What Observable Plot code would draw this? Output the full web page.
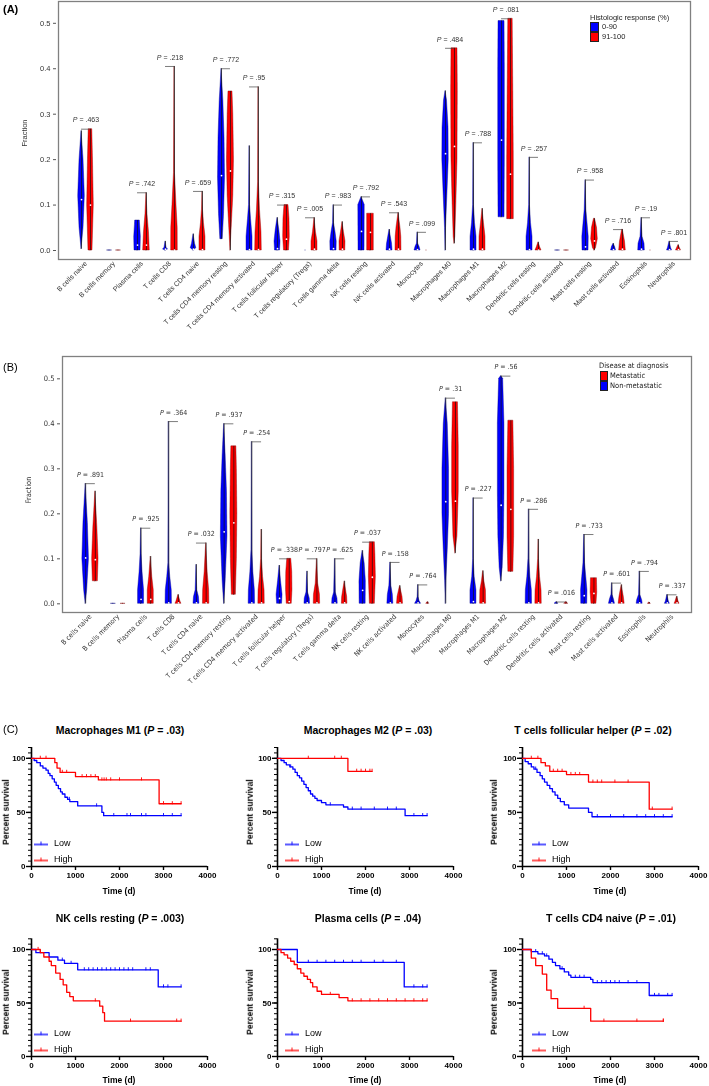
<!DOCTYPE html>
<html><head><meta charset="utf-8">
<script src="https://cdn.jsdelivr.net/npm/d3@7"></script>
<script src="https://cdn.jsdelivr.net/npm/@observablehq/plot@0.6"></script>
<style>
body{margin:0;background:#fff;}
#root{position:relative;width:709px;height:1086px;overflow:hidden;font-family:"Liberation Sans",Arial,sans-serif;color:#000;}
#root svg{overflow:visible;transform:translateZ(0);will-change:transform;}
.t{position:absolute;white-space:nowrap;line-height:1;}
</style></head><body><div id="root"></div>
<script>
// ---------------- DATA ----------------
const cellTypes = ["B cells naive","B cells memory","Plasma cells","T cells CD8","T cells CD4 naive","T cells CD4 memory resting","T cells CD4 memory activated","T cells follicular helper","T cells regulatory (Tregs)","T cells gamma delta","NK cells resting","NK cells activated","Monocytes","Macrophages M0","Macrophages M1","Macrophages M2","Dendritic cells resting","Dendritic cells activated","Mast cells resting","Mast cells activated","Eosinophils","Neutrophils"];
const fractionTicks = [0, 0.1, 0.2, 0.3, 0.4, 0.5];

// Panel A: violin profiles [fraction, density] for 0-90 (blue) and 91-100 (red)
const violinA_low = [
 [[0.003,0],[0.05,2],[0.12,3.3],[0.2,2],[0.263,0]],
 [[0,0],[0,2.5]],
 [[0,0],[0,3],[0.03,3.3],[0.066,2.3],[0.066,0]],
 [[0,0],[0.002,2.5],[0.006,1],[0.02,0]],
 [[0,0],[0.005,2.8],[0.015,1.5],[0.036,0]],
 [[0.025,0],[0.025,1.2],[0.08,2.5],[0.16,3.5],[0.25,3],[0.33,1.8],[0.4,0]],
 [[0,0],[0,3],[0.03,3],[0.07,1.5],[0.1,0.5],[0.23,0]],
 [[0,0],[0,2.5],[0.02,3],[0.045,1.8],[0.072,0]],
 [[0,0],[0,0]],
 [[0,0],[0,3],[0.02,3.2],[0.04,2],[0.06,0.5],[0.1,0]],
 [[0,0],[0,3],[0.1,3.2],[0.118,0]],
 [[0,0],[0,3],[0.015,2.5],[0.046,0]],
 [[0,0],[0,3],[0.008,2],[0.015,0.6],[0.04,0]],
 [[0,0],[0.05,0.5],[0.12,1.8],[0.2,3.2],[0.27,3],[0.33,1.5],[0.351,0]],
 [[0,0],[0,3],[0.03,3],[0.06,1.5],[0.1,0.4],[0.237,0]],
 [[0.073,0],[0.073,3],[0.2,3.3],[0.4,3.3],[0.505,3],[0.505,0]],
 [[0,0],[0,3],[0.03,3],[0.06,1.5],[0.1,0.4],[0.205,0]],
 [[0,0],[0,2.5]],
 [[0,0],[0,3],[0.03,3.2],[0.06,2],[0.09,0.8],[0.155,0]],
 [[0,0],[0,2.5],[0.008,1.5],[0.015,0]],
 [[0,0],[0,3.3],[0.015,3],[0.03,1],[0.072,0]],
 [[0,0],[0,2.5],[0.006,1.5],[0.02,0]]
];
const violinA_high = [
 [[0,0],[0,2],[0.1,3.3],[0.2,2.5],[0.267,1.8],[0.267,0]],
 [[0,0],[0,2.5]],
 [[0,0],[0,3.3],[0.04,2.5],[0.08,1],[0.127,0]],
 [[0,0],[0,3.3],[0.05,3.2],[0.1,2],[0.17,0.5],[0.405,0]],
 [[0,0],[0,3],[0.03,3],[0.06,1.5],[0.09,0.5],[0.13,0]],
 [[0,0],[0.05,1.2],[0.12,2.8],[0.2,3.5],[0.3,2.8],[0.35,2],[0.35,0]],
 [[0,0],[0,3.3],[0.04,3],[0.09,1.5],[0.15,0.4],[0.36,0]],
 [[0,0],[0,2.5],[0.03,3.3],[0.07,3],[0.1,2],[0.1,0]],
 [[0,0],[0,3],[0.02,3],[0.04,1.5],[0.072,0]],
 [[0,0],[0,2.8],[0.02,3],[0.04,1.5],[0.063,0]],
 [[0,0],[0,3.3],[0.081,3.3],[0.081,0]],
 [[0,0],[0,3],[0.03,2.8],[0.05,2],[0.083,0]],
 [[0,0],[0,0]],
 [[0.015,0],[0.03,0.8],[0.1,1.8],[0.2,3],[0.35,3.3],[0.445,3],[0.445,0]],
 [[0,0],[0,3],[0.03,3],[0.06,1.5],[0.092,0]],
 [[0.069,0],[0.069,3.3],[0.2,3.3],[0.35,2.8],[0.51,2.2],[0.51,0]],
 [[0,0],[0,3],[0.008,1.5],[0.018,0]],
 [[0,0],[0,2.5]],
 [[0,0],[0.005,1.5],[0.025,3.3],[0.05,2.5],[0.07,0.5],[0.07,0]],
 [[0,0],[0,3.3],[0.02,2.5],[0.046,0.3],[0.046,0]],
 [[0,0],[0,0]],
 [[0,0],[0,2.5],[0.005,1.5],[0.012,0]]
];
const medianA_low  = [0.112,null,0.012,0.003,0.003,0.165,0.002,0.004,null,0.004,0.042,0.003,0.002,0.213,0.003,0.243,0.002,null,0.008,0.002,0.003,0.002];
const medianA_high = [0.1,null,0.012,0.001,0.002,0.175,0.002,0.025,0.003,0.003,0.04,0.003,null,0.229,0.003,0.168,0.001,null,0.021,0.003,null,0.002];
const pA = [".463",null,".742",".218",".659",".772",".95",".315",".005",".983",".792",".543",".099",".484",".788",".081",".257",null,".958",".716",".19",".801"];

// Panel B: Non-metastatic (blue) and Metastatic (red)
const violinB_nonmet = [
 [[0,0],[0.03,1.5],[0.1,3.3],[0.18,2.2],[0.267,0]],
 [[0,0],[0,2.5]],
 [[0,0],[0,3],[0.03,3],[0.07,1.5],[0.11,0.5],[0.168,0]],
 [[0,0],[0,3.2],[0.03,3],[0.06,1.5],[0.09,0.4],[0.405,0]],
 [[0,0],[0,3],[0.015,2.5],[0.03,0.8],[0.087,0]],
 [[0,0],[0.05,1.5],[0.15,3.3],[0.25,2.8],[0.33,1.5],[0.4,0]],
 [[0,0],[0,3.2],[0.03,3],[0.07,1.5],[0.12,0.4],[0.36,0]],
 [[0,0],[0,2.5],[0.02,3],[0.05,1.5],[0.085,0]],
 [[0,0],[0,2.8],[0.012,2.5],[0.025,0.8],[0.072,0]],
 [[0,0],[0,2.8],[0.012,2.5],[0.025,0.8],[0.1,0]],
 [[0,0],[0,3],[0.05,3.2],[0.09,2],[0.118,0]],
 [[0,0],[0,3],[0.02,2.5],[0.04,1],[0.092,0]],
 [[0,0],[0,3],[0.006,1.5],[0.015,0.4],[0.042,0]],
 [[0,0],[0.05,0.6],[0.12,2],[0.2,3.3],[0.3,3.3],[0.4,2],[0.457,0]],
 [[0,0],[0,3],[0.03,3],[0.06,1.2],[0.1,0.3],[0.235,0]],
 [[0.05,0],[0.08,1.5],[0.15,2.8],[0.25,3.3],[0.4,3.3],[0.5,2],[0.506,0]],
 [[0,0],[0,3.2],[0.03,3],[0.06,1.5],[0.1,0.4],[0.21,0]],
 [[0,0],[0,2],[0.004,0]],
 [[0,0],[0,3],[0.03,3.2],[0.06,2],[0.09,0.8],[0.154,0]],
 [[0,0],[0,3],[0.01,2],[0.02,0.5],[0.046,0]],
 [[0,0],[0,3],[0.008,2.5],[0.02,0.6],[0.072,0]],
 [[0,0],[0,2.5],[0.005,1.5],[0.02,0]]
];
const violinB_met = [
 [[0.05,0],[0.05,2.5],[0.1,3.2],[0.17,2],[0.25,0]],
 [[0,0],[0,2.5]],
 [[0,0],[0,3],[0.03,3],[0.06,1.5],[0.105,0]],
 [[0,0],[0,3],[0.005,2],[0.02,0]],
 [[0,0],[0,3.2],[0.03,3],[0.07,1.5],[0.135,0]],
 [[0.02,0],[0.02,2],[0.1,3],[0.2,3.5],[0.3,3],[0.35,2.5],[0.35,0]],
 [[0,0],[0,3.2],[0.03,3],[0.06,1.5],[0.1,0.4],[0.165,0]],
 [[0,0],[0,2.5],[0.03,3.2],[0.07,3],[0.1,2],[0.1,0]],
 [[0,0],[0,3.2],[0.02,3],[0.045,1.2],[0.1,0]],
 [[0,0],[0,2.8],[0.015,2.5],[0.05,0]],
 [[0,0],[0,2.5],[0.06,3.5],[0.11,3],[0.137,2.5],[0.137,0]],
 [[0,0],[0,3],[0.015,2.5],[0.04,0]],
 [[0,0],[0,1.5],[0.004,0]],
 [[0.112,0],[0.15,2],[0.25,3.3],[0.35,3.3],[0.448,2.5],[0.448,0]],
 [[0,0],[0,3],[0.03,2.8],[0.05,1.2],[0.073,0]],
 [[0.071,0],[0.071,2.5],[0.15,3.3],[0.3,3.3],[0.407,2.5],[0.407,0]],
 [[0,0],[0,3.2],[0.03,3],[0.06,1.5],[0.1,0.4],[0.143,0]],
 [[0,0],[0,2],[0.004,0]],
 [[0,0],[0,2.5],[0.025,3.3],[0.057,3],[0.057,0]],
 [[0,0],[0,3],[0.015,2.2],[0.042,0]],
 [[0,0],[0,1.5],[0.003,0]],
 [[0,0],[0,2.5],[0.005,1.5],[0.016,0]]
];
const medianB_nonmet = [0.102,null,0.01,0.002,0.002,0.16,0.002,0.012,0.002,0.002,0.03,0.002,0.002,0.227,0.005,0.219,0.002,null,0.018,0.002,0.002,0.002];
const medianB_met    = [0.098,null,0.01,0.002,0.002,0.18,0.002,0.005,0.002,0.002,0.059,0.002,null,0.228,0.002,0.21,0.002,null,0.023,0.002,null,0.002];
const pB = [".891",null,".925",".364",".032",".937",".254",".338",".797",".625",".037",".158",".764",".31",".227",".56",".286",".016",".733",".601",".794",".337"];

// Panel C: Kaplan-Meier steps [day, percent survival], last day of follow-up, censored days
const kmTitles = ["Macrophages M1","Macrophages M2","T cells follicular helper","NK cells resting","Plasma cells","T cells CD4 naive"];
const kmP = [".03",".03",".02",".003",".04",".01"];
const timeTicks = [0,1000,2000,3000,4000];
const survTicks = [0,50,100];

const m1Low = [[0,100],[60,98],[120,96],[200,93],[260,91],[330,89],[380,86],[420,84],[470,81],[520,78],[560,75],[610,72],[660,69],[700,67],[760,64],[820,62],[870,60],[1050,56],[1600,50],[1640,47]];
const m1LowEnd = 3400, m1LowCens = [860,1480,1870,2170,2250,2500,2600,3000,3200];
const m1High = [[0,100],[530,96],[580,91],[650,87],[1000,83],[1520,80],[2900,58]];
const m1HighEnd = 3400, m1HighCens = [200,330,700,800,1150,1250,1350,1450,1600,1650,1700,1800,2000,2500,3000,3200];

const m2Low = [[0,100],[80,98],[150,96],[200,94],[280,92],[350,90],[400,87],[450,84],[500,82],[550,79],[600,76],[650,73],[700,70],[750,67],[800,65],[850,63],[900,61],[1000,59],[1100,57],[1500,55],[1600,53],[2900,47]];
const m2LowEnd = 3400, m2LowCens = [300,1200,1700,1900,2200,2500,2700,3100,3300];
const m2High = [[0,100],[1600,88]];
const m2HighEnd = 2150, m2HighCens = [700,1300,1450,1800,1900,2000,2100];

const tfhLow = [[0,100],[60,97],[130,95],[200,92],[260,90],[330,87],[400,84],[450,81],[500,78],[560,75],[620,72],[680,69],[740,66],[800,63],[860,60],[950,57],[1050,54],[1500,50],[1580,46]];
const tfhLowEnd = 3400, tfhLowCens = [300,1700,2000,2300,2600,2800,3000,3200];
const tfhHigh = [[0,100],[420,96],[520,93],[620,88],[1000,85],[1500,78],[2880,53]];
const tfhHighEnd = 3400, tfhHighCens = [200,350,700,800,900,1100,1200,1300,1600,1700,1800,2100,2400,2950];

const nkLow = [[0,100],[100,97],[400,93],[600,90],[750,87],[1050,81],[2880,65]];
const nkLowEnd = 3400, nkLowCens = [200,700,900,1200,1300,1400,1500,1600,1700,1800,1900,2000,2100,2200,2300,2600,2700,3000,3100];
const nkHigh = [[0,100],[200,97],[280,93],[400,89],[450,85],[550,78],[650,72],[720,67],[800,60],[870,56],[950,52],[1550,47],[1620,41],[1660,33]];
const nkHighEnd = 3400, nkHighCens = [150,1450,2250,3300];

const plLow = [[0,100],[450,88],[2880,65]];
const plLowEnd = 3400, plLowCens = [700,900,1100,1300,1500,1700,1900,2200,2400,2700,3100,3300];
const plHigh = [[0,100],[80,97],[150,95],[230,92],[300,89],[380,86],[450,82],[530,78],[600,75],[680,72],[750,69],[800,65],[900,61],[1000,58],[1400,55],[1600,52]];
const plHighEnd = 3400, plHighCens = [1200,1700,1900,2100,2300,2500,2700,2900,3100,3300];

const cd4Low = [[0,100],[200,98],[350,96],[500,94],[600,91],[680,88],[750,85],[850,82],[950,79],[1050,76],[1100,74],[1550,72],[1600,69],[2880,57]];
const cd4LowEnd = 3400, cd4LowCens = [300,450,550,900,1200,1300,1400,1700,1800,1900,2000,2100,2200,2400,2600,3000,3100,3300];
const cd4High = [[0,100],[200,92],[300,85],[450,77],[550,62],[650,54],[800,45],[1550,33]];
const cd4HighEnd = 3200, cd4HighCens = [1400,1850,2600,3200];

// ---------------- DRAWING ----------------
const root = document.getElementById("root");
const BLUE = "#0000ff", RED = "#ff0000";

function addText(html, x, y, css, anchor) {
  const d = document.createElement("div");
  d.className = "t";
  d.innerHTML = html;
  d.style.cssText += `left:${x}px;top:${y}px;` + (css || "");
  const a = anchor || "lm";
  const tx = a[0] === "c" ? "-50%" : a[0] === "r" ? "-100%" : "0";
  d.style.transform = `translate(${tx},-50%)`;
  root.appendChild(d);
  return d;
}
function addRotText(html, x, y, css) {
  const d = document.createElement("div");
  d.className = "t";
  d.innerHTML = html;
  d.style.cssText += `left:${x}px;top:${y}px;transform:translate(-50%,-50%) rotate(-90deg);` + (css || "");
  root.appendChild(d);
}
function place(node, left, top) {
  node.style.position = "absolute";
  node.style.left = left + "px";
  node.style.top = top + "px";
  root.appendChild(node);
}
function italicP(svg) {
  d3.select(svg).selectAll("text").each(function () {
    const s = this.textContent;
    if (s.startsWith("P = ")) {
      this.textContent = "";
      const sel = d3.select(this);
      sel.append("tspan").attr("font-style", "italic").text("P");
      sel.append("tspan").text(s.slice(1));
    }
  });
}

function violinPanel(cfg) {
  const {low, high, medLow, medHigh, pvals, unit, off} = cfg;
  const rows = (arr, sign, grp) => arr.flatMap((kn, i) => kn.map(([v, w]) => ({
    key: grp + i, v, x1: i + sign * off - w / unit, x2: i + sign * off + w / unit})));
  const stats = [];
  [[low, -1, medLow], [high, 1, medHigh]].forEach(([arr, sign, med]) => arr.forEach((kn, i) => {
    const vs = kn.map(k => k[0]);
    stats.push({xc: i + sign * off, min: d3.min(vs), max: d3.max(vs), med: med[i]});
  }));
  const brackets = pvals.map((p, i) => p == null ? null : ({
    i, xb: i - off, xr: i + off,
    top: Math.max(d3.max(low[i], k => k[0]), d3.max(high[i], k => k[0])),
    label: "P = " + p})).filter(d => d);
  const svg = Plot.plot({
    width: 709, height: cfg.height,
    marginTop: cfg.mt, marginBottom: cfg.mb, marginLeft: cfg.ml, marginRight: cfg.mr,
    x: {domain: cfg.xDomain, axis: null},
    y: {domain: cfg.yDomain, axis: null},
    style: {fontFamily: cfg.font, color: "#333", background: "transparent", overflow: "visible"},
    marks: [
      Plot.frame({stroke: "#808080", strokeWidth: 1.3}),
      Plot.axisY(fractionTicks, {tickFormat: d3.format(".1f"), tickSize: 3, tickPadding: 3, dx: -2, fontSize: 7.5, label: null, stroke: "#555", fill: "#333"}),
      Plot.axisX(d3.range(cellTypes.length), {tickFormat: i => cellTypes[i], tickRotate: -45, tickSize: 0, tickPadding: 3, fontSize: 7, label: null, fill: "#333"}),
      Plot.areaX(rows(low, -1, "l"), {y: "v", x1: "x1", x2: "x2", z: "key", fill: BLUE, stroke: "#00007a", strokeWidth: 0.4}),
      Plot.areaX(rows(high, 1, "h"), {y: "v", x1: "x1", x2: "x2", z: "key", fill: RED, stroke: "#7a0000", strokeWidth: 0.4}),
      Plot.ruleX(stats, {x: "xc", y1: "min", y2: "max", stroke: "#111", strokeWidth: 0.7}),
      Plot.dot(stats.filter(d => d.med != null), {x: "xc", y: "med", r: 0.9, fill: "white"}),
      Plot.ruleY(brackets, {y: "top", x1: "xb", x2: "xr", stroke: "#444", strokeWidth: 0.7}),
      Plot.text(brackets, {x: "i", y: "top", text: "label", dy: -9, fontSize: 7, fill: "#333"})
    ]
  });
  italicP(svg);
  return svg;
}

// Panel A
place(violinPanel({
  low: violinA_low, high: violinA_high, medLow: medianA_low, medHigh: medianA_high, pvals: pA,
  unit: 28, off: 0.16, height: 350, mt: 1, mb: 91, ml: 58, mr: 19,
  xDomain: [-0.982, 21.589], yDomain: [-0.0198, 0.548], font: '"Liberation Sans", Arial, sans-serif'
}), 0, 0);
addText("(A)", 3, 9, "font-weight:bold;font-size:11px;");
addRotText("Fraction", 25, 133, "font-size:7.5px;color:#333;");
addText("Histologic response (%)", 590, 18, "font-size:7.5px;color:#222;");
addText(`<span style="display:inline-block;width:7px;height:8px;background:${BLUE};border:0.5px solid #222;vertical-align:middle;margin-right:3px"></span>0-90`, 590, 27, "font-size:7.5px;color:#222;");
addText(`<span style="display:inline-block;width:7px;height:8px;background:${RED};border:0.5px solid #222;vertical-align:middle;margin-right:3px"></span>91-100`, 590, 37, "font-size:7.5px;color:#222;");

// Panel B
const narrow = '"Liberation Sans Narrow", "Arial Narrow", "DejaVu Sans Condensed", sans-serif';
place(violinPanel({
  low: violinB_nonmet, high: violinB_met, medLow: medianB_nonmet, medHigh: medianB_met, pvals: pB,
  unit: 27.7, off: 0.175, height: 350, mt: 6, mb: 88, ml: 62, mr: 18,
  xDomain: [-1.011, 21.697], yDomain: [-0.0193, 0.5496], font: narrow
}), 0, 350);
addText("(B)", 3, 367, "font-size:11px;");
addRotText("Fraction", 29, 490, `font-size:7.5px;color:#333;font-family:${narrow};`);
addText("Disease at diagnosis", 599, 366, `font-size:7.5px;color:#222;font-family:${narrow};`);
addText(`<span style="display:inline-block;width:6px;height:8px;background:${RED};border:0.5px solid #222;vertical-align:middle;margin-right:2px"></span>Metastatic`, 600, 376, `font-size:7.5px;color:#222;font-family:${narrow};`);
addText(`<span style="display:inline-block;width:6px;height:8px;background:${BLUE};border:0.5px solid #222;vertical-align:middle;margin-right:2px"></span>Non-metastatic`, 600, 386, `font-size:7.5px;color:#222;font-family:${narrow};`);

// Panel C
addText("(C)", 3, 729, "font-size:11px;");
const censorSymbol = {draw(ctx, size) { const r = Math.sqrt(size / Math.PI); ctx.moveTo(0, 0.5); ctx.lineTo(0, -r); }};

function stepValue(steps, t) { let s = steps[0][1]; for (const [tt, ss] of steps) if (tt <= t) s = ss; return s; }

function kmPanel(cfg) {
  const marks = [];
  cfg.series.forEach(({steps, end, cens, color}) => {
    const line = steps.map(([t, s]) => ({t, s})).concat([{t: end, s: steps[steps.length - 1][1]}]);
    marks.push(Plot.line(line, {x: "t", y: "s", curve: "step-after", stroke: color, strokeWidth: 1.3}));
    marks.push(Plot.dot(cens.concat([end]).map(t => ({t, s: stepValue(steps, t)})), {x: "t", y: "s", symbol: censorSymbol, r: 2.6, stroke: color, strokeWidth: 0.9, fill: "none"}));
  });
  const svg = Plot.plot({
    width: 230, height: cfg.height, marginTop: cfg.mt, marginBottom: cfg.mb, marginLeft: 31, marginRight: 23,
    x: {domain: [0, 4000], axis: null}, y: {domain: [0, 110], axis: null},
    style: {fontFamily: '"Liberation Sans", Arial, sans-serif', color: "#000", background: "transparent", overflow: "visible"},
    marks: [
      Plot.axisY(d3.range(0, 111, 5), {tickSize: 3, tickFormat: () => "", strokeWidth: 1, label: null}),
      Plot.axisY(survTicks, {tickSize: 5, tickPadding: 1, tickFormat: d3.format("d"), fontSize: 8, fontWeight: "bold", strokeWidth: 1.4, label: null}),
      Plot.axisX(timeTicks, {tickSize: 4, tickPadding: 2, tickFormat: d3.format("d"), fontSize: 8, fontWeight: "bold", strokeWidth: 1.4, label: null}),
      Plot.ruleX([0], {y1: 0, y2: 110, strokeWidth: 1.6}),
      Plot.ruleY([0], {x1: 0, x2: 4000, strokeWidth: 1.6}),
      ...marks
    ]
  });
  place(svg, cfg.left, cfg.top);
}

const kmLayout = [
  {left: 0, top: 740, height: 160, mt: 7, mb: 34, titleX: 120, titleY: 730, ylabX: 6, ylabY: 812, timeY: 891, legX: 34, legY: 843},
  {left: 246, top: 740, height: 160, mt: 7, mb: 34, titleX: 368, titleY: 730, ylabX: 250, ylabY: 812, timeY: 891, legX: 285, legY: 843},
  {left: 491, top: 740, height: 160, mt: 7, mb: 34, titleX: 593, titleY: 730, ylabX: 494, ylabY: 812, timeY: 891, legX: 532, legY: 843},
  {left: 0, top: 931, height: 155, mt: 7.3, mb: 30, titleX: 120, titleY: 918, ylabX: 6, ylabY: 1002, timeY: 1080, legX: 34, legY: 1033},
  {left: 246, top: 931, height: 155, mt: 7.3, mb: 30, titleX: 368, titleY: 918, ylabX: 250, ylabY: 1002, timeY: 1080, legX: 285, legY: 1033},
  {left: 491, top: 931, height: 155, mt: 7.3, mb: 30, titleX: 611, titleY: 918, ylabX: 494, ylabY: 1002, timeY: 1080, legX: 532, legY: 1033}
];
const kmSeries = [
  [{steps: m1Low, end: m1LowEnd, cens: m1LowCens, color: BLUE}, {steps: m1High, end: m1HighEnd, cens: m1HighCens, color: RED}],
  [{steps: m2Low, end: m2LowEnd, cens: m2LowCens, color: BLUE}, {steps: m2High, end: m2HighEnd, cens: m2HighCens, color: RED}],
  [{steps: tfhLow, end: tfhLowEnd, cens: tfhLowCens, color: BLUE}, {steps: tfhHigh, end: tfhHighEnd, cens: tfhHighCens, color: RED}],
  [{steps: nkLow, end: nkLowEnd, cens: nkLowCens, color: BLUE}, {steps: nkHigh, end: nkHighEnd, cens: nkHighCens, color: RED}],
  [{steps: plLow, end: plLowEnd, cens: plLowCens, color: BLUE}, {steps: plHigh, end: plHighEnd, cens: plHighCens, color: RED}],
  [{steps: cd4Low, end: cd4LowEnd, cens: cd4LowCens, color: BLUE}, {steps: cd4High, end: cd4HighEnd, cens: cd4HighCens, color: RED}]
];
const legendIcon = c => `<svg width="15" height="8" style="vertical-align:middle;margin-right:5px"><line x1="0" y1="5" x2="14" y2="5" stroke="${c}" stroke-width="1.3"/><line x1="7" y1="2" x2="7" y2="5.5" stroke="${c}" stroke-width="0.9"/></svg>`;

kmLayout.forEach((L, k) => {
  kmPanel({...L, series: kmSeries[k]});
  addText(`${kmTitles[k]} (<i>P</i> = ${kmP[k]})`, L.titleX, L.titleY, "font-weight:bold;font-size:10.5px;", "cm");
  addRotText("Percent survival", L.ylabX, L.ylabY, "font-weight:bold;font-size:8.5px;");
  addText("Time (d)", L.left + 31 + 88, L.timeY, "font-weight:bold;font-size:8.5px;", "cm");
  addText(legendIcon(BLUE) + "Low", L.legX, L.legY, "font-size:9px;");
  addText(legendIcon(RED) + "High", L.legX, L.legY + 16, "font-size:9px;");
});
</script></body></html>
